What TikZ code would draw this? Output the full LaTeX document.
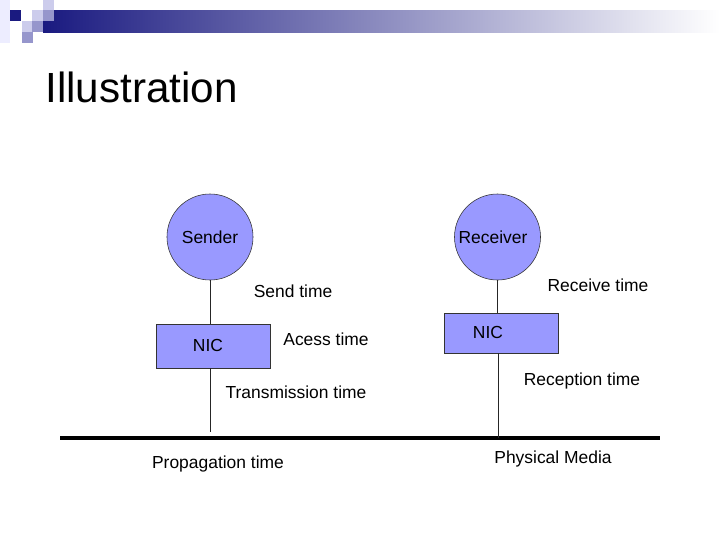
\documentclass[tikz,border=0pt]{standalone}
\usepackage{fontspec}
\setmainfont{Liberation Sans}
\usetikzlibrary{positioning,calc}
\definecolor{lavender}{RGB}{153,153,255}
\definecolor{navy}{RGB}{26,26,128}
\definecolor{sqlight}{RGB}{204,204,236}
\definecolor{sqmid}{RGB}{150,150,204}
\begin{document}
\begin{tikzpicture}[x=0.025cm,y=-0.025cm,
  host/.style={circle,draw=black!80,fill=lavender,minimum size=2.15cm,inner sep=0pt},
  nicbox/.style={rectangle,draw=black!80,fill=lavender,minimum width=2.85cm},
  lbl/.style={font=\fontsize{12.4}{14}\selectfont},
  wire/.style={draw=black!85,line width=0.6pt}]
\useasboundingbox (0,0) rectangle (720,540);
% Header bar and squares
\shade[left color=navy,right color=white] (43,10) rectangle (720,32);
\fill[blue!7] (0,0) rectangle (10,43);
\foreach \x/\y/\c in {10/10/navy,32/10/sqlight,43/0/sqlight,43/10/sqmid,22/21/sqlight,32/21/sqmid,22/32/sqmid} {
  \fill[\c] (\x,\y) rectangle ++(11,11);
}
\node[font=\fontsize{30}{34}\selectfont,anchor=base west,inner sep=0pt] (title) at (45,102) {Illustration};
% Hosts
\node[host] (sender) at (210,237) {};
\node[lbl] at (210,237) {Sender};
\node[host] (receiver) at (497.5,237) {};
\node[lbl] at (493,237) {Receiver};
% NICs
\node[nicbox,minimum height=1.1cm] (nicS) at (213,346) {};
\node[lbl] at (208,345) {NIC};
\node[nicbox,minimum height=1.0cm] (nicR) at (501,333) {};
\node[lbl] at (488,332) {NIC};
% Physical media
\coordinate (mediaL) at (60,438);
\coordinate (mediaR) at (660,438);
\coordinate (sEnd) at (210,432);
\coordinate (rEnd) at (498,438);
\draw[line width=2.2pt] (mediaL) -- (mediaR);
% Wires
\draw[wire] (sender.south) -- (sender.south |- nicS.north);
\draw[wire] (nicS.south -| sEnd) -- (sEnd);
\draw[wire] (receiver.south) -- (receiver.south |- nicR.north);
\draw[wire] (nicR.south -| rEnd) -- (rEnd);
% Times
\node[lbl] (send) at (293,291) {Send time};
\node[lbl] (access) at (326,339) {Acess time};
\node[lbl] (trans) at (296,392) {Transmission time};
\node[lbl] (prop) at (218,464) {Propagation time};
\node[lbl] (recv) at (598,285) {Receive time};
\node[lbl] (recep) at (582,381) {Reception time};
\node[lbl] (phys) at (553,459) {Physical Media};
\end{tikzpicture}
\end{document}
